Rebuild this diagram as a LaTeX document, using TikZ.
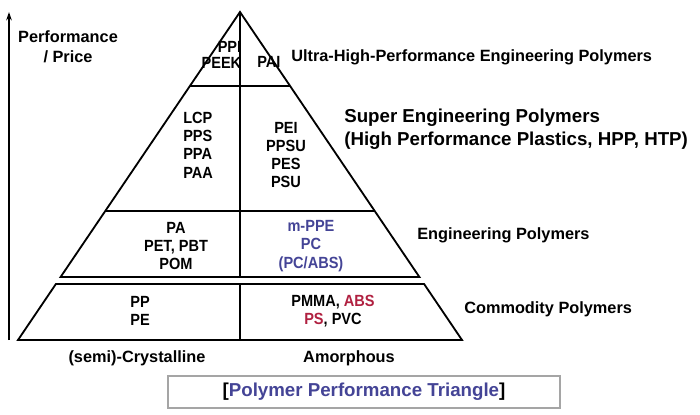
\documentclass[tikz,border=0pt]{standalone}
\usepackage{fontspec}
\setmainfont{Liberation Sans}
\newfontfamily\narrowsans[FakeStretch=0.9]{Liberation Sans}
\usepackage{xcolor}
\usepackage{tikz}
\usetikzlibrary{arrows.meta}

\definecolor{polyblue}{RGB}{68,68,150}
\definecolor{polyred}{RGB}{176,32,64}
\definecolor{boxgray}{RGB}{165,165,165}

\begin{document}
\begin{tikzpicture}[x=0.025cm,y=-0.025cm]
      \tikzstyle{edge}=[line width=1.3pt]
      \tikzstyle{polytxt}=[font=\narrowsans\bfseries\fontsize{11.5}{13}\selectfont,align=center,inner sep=0pt]
      \tikzstyle{classtxt}=[font=\bfseries\fontsize{11.6}{14}\selectfont,align=left,inner sep=0pt,anchor=west]
      \tikzstyle{axistxt}=[font=\bfseries\fontsize{11.6}{14}\selectfont,align=center,inner sep=0pt]
      \tikzstyle{bigtxt}=[font=\bfseries\fontsize{13.3}{16.5}\selectfont,align=left,inner sep=0pt]
      \useasboundingbox (0,0) rectangle (700,415);
      % corners of the triangle
      \coordinate (top) at (240,12);
      \coordinate (ul) at (190,86);
      \coordinate (ur) at (290,86);
      \coordinate (sl) at (105.3,211);
      \coordinate (sr) at (374.7,211);
      \coordinate (el) at (60.6,277);
      \coordinate (er) at (419.4,277);
      \coordinate (cl) at (55.9,284);
      \coordinate (cr) at (424.1,284);
      \coordinate (bl) at (18,340);
      \coordinate (br) at (462,340);
      \coordinate (em) at (240,277);
      \coordinate (cm) at (240,284);
      \coordinate (bm) at (240,340);
      \draw[edge] (el) -- (top) -- (er) -- cycle;
      \draw[edge] (cl) -- (cr) -- (br) -- (bl) -- cycle;
      \draw[edge] (ul) -- (ur);
      \draw[edge] (sl) -- (sr);
      \draw[edge] (top) -- (em);
      \draw[edge] (cm) -- (bm);
      % axis
      \coordinate (abot) at (9,340);
      \coordinate (atop) at (9,12);
      \draw[line width=0.9pt,-{Stealth[length=6pt,width=4pt]}] (abot) -- (atop);
      \node[axistxt,font=\bfseries\fontsize{11.6}{14.5}\selectfont] (perf) at (68,47) {Performance\\/ Price};
      % polymers
      \node[polytxt,align=right,anchor=east,font=\narrowsans\bfseries\fontsize{11.5}{10.8}\selectfont] (ppi) at (241.5,55) {PPI\\PEEK};
      \node[polytxt,anchor=west] (pai) at (257,62) {PAI};
      \node[polytxt,align=left,anchor=west] (lcp) at (183,145) {LCP\\PPS\\PPA\\PAA};
      \node[polytxt] (pei) at (286,155) {PEI\\PPSU\\PES\\PSU};
      \node[polytxt] (pa) at (176,246) {PA\\PET, PBT\\POM};
      \node[polytxt,text=polyblue] (ppe) at (311,246) {m-PPE\\PC\\(PC/ABS)};
      \node[polytxt] (pp) at (140,311) {PP\\PE};
      \node[polytxt] (pmma) at (333,311) {PMMA, \textcolor{polyred}{ABS}\\\textcolor{polyred}{PS}, PVC};
      % classes
      \node[classtxt] (ultra) at (291,57) {Ultra-High-Performance Engineering Polymers};
      \node[bigtxt,anchor=west] (super) at (344,129) {Super Engineering Polymers\\(High Performance Plastics, HPP, HTP)};
      \node[classtxt] (eng) at (417,235) {Engineering Polymers};
      \node[classtxt] (comm) at (464,309) {Commodity Polymers};
      \node[axistxt] (semi) at (137,358) {(semi)-Crystalline};
      \node[axistxt] (amor) at (349,358) {Amorphous};
      \node[bigtxt,draw=boxgray,line width=1.2pt,minimum width=9.8cm,minimum height=0.8cm,align=center] (title) at (364,392) {{[}\textcolor{polyblue}{Polymer Performance Triangle}{]}};
\end{tikzpicture}
\end{document}
